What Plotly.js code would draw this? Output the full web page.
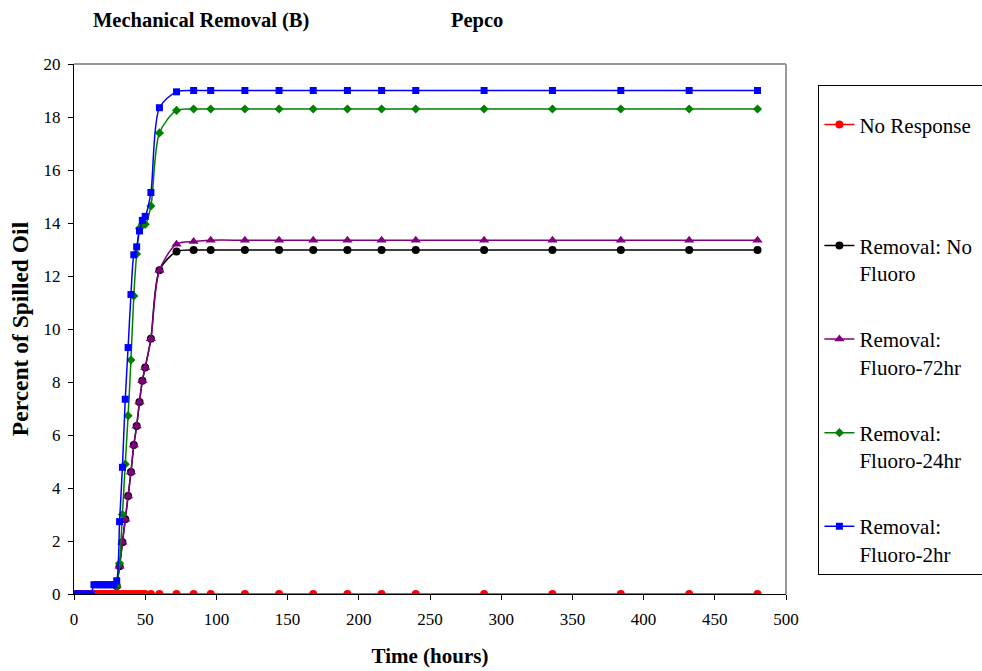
<!DOCTYPE html>
<html>
<head>
<meta charset="utf-8">
<script src="https://cdn.plot.ly/plotly-3.0.1.min.js"></script>
<style>
  html, body { margin: 0; padding: 0; background: #ffffff; }
  #chart { width: 982px; height: 671px; }
</style>
</head>
<body>
<div id="chart"></div>
<script>
// Time (hours)
var hours = [0, 2, 4, 6, 8, 10, 12, 14, 16, 18, 20, 22, 24, 26, 28, 30, 32, 34, 36, 38, 40, 42, 44, 46, 48, 50, 54, 60, 72, 84, 96, 120, 144, 168, 192, 216, 240, 288, 336, 384, 432, 480];

var seriesNames = ["No Response", "Removal: No<br>Fluoro", "Removal:<br>Fluoro-72hr", "Removal:<br>Fluoro-24hr", "Removal:<br>Fluoro-2hr"];

var noResponse = [0, 0, 0, 0, 0, 0, 0, 0, 0, 0, 0, 0, 0, 0, 0, 0, 0, 0, 0, 0, 0, 0, 0, 0, 0, 0, 0, 0, 0, 0, 0, 0, 0, 0, 0, 0, 0, 0, 0, 0, 0, 0];

var removalNoFluoro = [null, null, null, null, null, null, null, null, null, null, null, null, null, null, null, 0.3, 1.05, 1.95, 2.82, 3.7, 4.6, 5.62, 6.34, 7.25, 8.05, 8.55, 9.63, 12.22, 12.92, 12.98, 12.98, 12.98, 12.98, 12.98, 12.98, 12.98, 12.98, 12.98, 12.98, 12.98, 12.98, 12.98];

var removalFluoro72 = [null, null, null, null, null, null, null, null, null, null, null, null, null, null, null, 0.3, 1.05, 1.95, 2.82, 3.7, 4.6, 5.62, 6.34, 7.25, 8.05, 8.55, 9.63, 12.22, 13.2, 13.3, 13.35, 13.35, 13.35, 13.35, 13.35, 13.35, 13.35, 13.35, 13.35, 13.35, 13.35, 13.35];

var removalFluoro24 = [null, null, null, null, null, null, null, null, null, null, null, null, null, null, null, 0.3, 1.16, 3.0, 4.9, 6.73, 8.83, 11.25, 12.83, 13.8, 13.95, 13.95, 14.64, 17.4, 18.25, 18.3, 18.3, 18.3, 18.3, 18.3, 18.3, 18.3, 18.3, 18.3, 18.3, 18.3, 18.3, 18.3];

var removalFluoro2 = [0, 0, 0, 0, 0, 0, 0, 0.35, 0.35, 0.35, 0.35, 0.35, 0.35, 0.35, 0.35, 0.5, 2.73, 4.78, 7.35, 9.3, 11.3, 12.8, 13.1, 13.7, 14.1, 14.25, 15.15, 18.35, 18.95, 19.0, 19.0, 19.0, 19.0, 19.0, 19.0, 19.0, 19.0, 19.0, 19.0, 19.0, 19.0, 19.0];

var xTicks = [0, 50, 100, 150, 200, 250, 300, 350, 400, 450, 500];
var yTicks = [0, 2, 4, 6, 8, 10, 12, 14, 16, 18, 20];

var chartTitle = "Mechanical Removal (B)";
var subTitle = "Pepco";
var xTitle = "Time (hours)";
var yTitle = "Percent of Spilled Oil";

var serif = "'Times New Roman', 'Liberation Serif', serif";

function mk(name, y, color, symbol, size, idx) {
  return {
    type: "scatter",
    mode: "lines+markers",
    x: hours,
    y: y,
    name: name,
    legendgroup: "g" + idx,
    connectgaps: false,
    line: { color: color, width: 1.5, shape: "spline", smoothing: 0.8 },
    marker: { color: color, symbol: symbol, size: size, line: { width: 0 } },
    hoverinfo: "skip"
  };
}

var traces = [
  mk(seriesNames[0] + "&nbsp;&nbsp;&nbsp;&nbsp;<br>&nbsp;<br>&nbsp;", noResponse, "#FF0000", "circle", 8, 0),
  mk(seriesNames[1], removalNoFluoro, "#000000", "circle", 8, 1),
  mk(seriesNames[2], removalFluoro72, "#800080", "triangle-up", 9, 2),
  mk(seriesNames[3], removalFluoro24, "#008000", "diamond", 7, 3),
  mk(seriesNames[4], removalFluoro2, "#0000FF", "square", 7, 4)
];

var layout = {
  width: 982,
  height: 671,
  margin: { l: 73.5, r: 196, t: 64, b: 77, autoexpand: false },
  paper_bgcolor: "#ffffff",
  plot_bgcolor: "#ffffff",
  font: { family: serif, color: "#000000", size: 17 },
  showlegend: true,
  hovermode: false,
  xaxis: {
    range: [0, 500],
    tickvals: xTicks,
    ticktext: xTicks.map(String),
    ticks: "outside",
    ticklen: 5,
    tickcolor: "#000000",
    showline: true,
    linecolor: "#000000",
    linewidth: 1,
    showgrid: false,
    zeroline: false,
    ticklabelstandoff: 5,
    tickfont: { family: serif, size: 17, color: "#000000" },
    title: { text: "<b>" + xTitle + "</b>", font: { family: serif, size: 21, color: "#000000" }, standoff: 19 }
  },
  yaxis: {
    range: [0, 20],
    tickvals: yTicks,
    ticktext: yTicks.map(String),
    ticks: "outside",
    ticklen: 5,
    tickcolor: "#000000",
    showline: true,
    linecolor: "#000000",
    linewidth: 1,
    showgrid: false,
    zeroline: false,
    ticklabelstandoff: 4,
    tickfont: { family: serif, size: 17, color: "#000000" },
    title: { text: "<b>" + yTitle + "</b>", font: { family: serif, size: 23.5, color: "#000000" }, standoff: 8 }
  },
  legend: {
    x: 1.0455,
    xanchor: "left",
    y: 0.96,
    yanchor: "top",
    bgcolor: "#ffffff",
    bordercolor: "#000000",
    borderwidth: 1,
    traceorder: "grouped",
    tracegroupgap: 36,
    valign: "top",
    title: { text: "&nbsp;", font: { family: serif, size: 14, color: "#000000" } },
    font: { family: serif, size: 21, color: "#000000" }
  },
  shapes: [
    { type: "line", xref: "paper", yref: "paper", x0: 0, x1: 1, y0: 1, y1: 1, line: { color: "#999999", width: 2 }, layer: "below" },
    { type: "line", xref: "paper", yref: "paper", x0: 1, x1: 1, y0: 0, y1: 1, line: { color: "#999999", width: 2 }, layer: "below" }
  ],
  annotations: [
    { text: "<b>" + chartTitle + "</b>", xref: "paper", yref: "paper", x: 0.178, y: 1.083, xanchor: "center", yanchor: "middle", showarrow: false, font: { family: serif, size: 20.5, color: "#000000" } },
    { text: "<b>" + subTitle + "</b>", xref: "paper", yref: "paper", x: 0.566, y: 1.083, xanchor: "center", yanchor: "middle", showarrow: false, font: { family: serif, size: 20.5, color: "#000000" } }
  ]
};

Plotly.newPlot("chart", traces, layout, { displayModeBar: false, staticPlot: true });
</script>
</body>
</html>
